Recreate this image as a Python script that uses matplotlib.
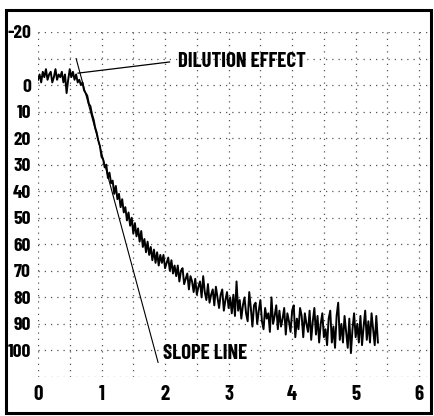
import numpy as np
import matplotlib.pyplot as plt
from matplotlib.patches import Rectangle

step = 0.025
trace = [
    -2, -4, -1, -5, -3, -6, -2, -4, -5, -1, -3, -6, -2, -4, -3, -5, -1, -4, 3, -2,
    -6, -3, -5, -2, -4, -1, -2,
    0, -1, 2, 3,
    4, 7, 8, 11,
    13, 16, 18, 21,
    23, 27, 28, 31,
    30, 35, 33, 37,
    36, 41, 38, 43,
    41, 46, 43, 48,
    46, 51, 48, 53,
    50, 56, 52, 57,
    54, 59, 55, 61,
    58, 63, 59, 64,
    61, 66, 62, 67,
    63, 68, 64, 67,
    64, 69, 67, 65,
    70, 66, 71, 68,
    72, 68, 74, 70,
    69, 75, 73, 71,
    77, 72, 74, 78,
    73, 79, 76, 74,
    80, 72, 78, 81,
    75, 82, 79, 77,
    83, 76, 80, 84,
    79, 77, 85, 81,
    78, 84, 80, 86,
    79, 87, 74, 85,
    81, 88, 83, 80,
    86, 89, 78, 84,
    91, 83, 82, 90,
    85, 81, 89, 92,
    84, 88, 86, 93,
    80, 90, 87, 83,
    92, 85, 91, 88,
    84, 94, 86, 89,
    93, 85, 83, 95,
    88, 92, 84, 87,
    95, 86, 90, 93,
    85, 96, 89, 84,
    94, 87, 97, 90,
    86, 95, 92, 98,
    88, 85, 97, 91,
    99, 87, 82, 96,
    90, 97, 87, 93,
    99, 88, 101, 92,
    86, 95, 90, 97,
    87, 98, 91, 85,
    96, 89, 97, 86,
    92, 98, 87, 97,
]
time = np.arange(len(trace)) * step

slope_x = [0.6, 1.89]
slope_y = [-10, 104.5]
dilution_x = [0.63, 2.07]
dilution_y = [-4.5, -8.7]

x_ticks = [0, 1, 2, 3, 4, 5, 6]
y_ticks = [-20, 0, 10, 20, 30, 40, 50, 60, 70, 80, 90, 100]

plt.rcParams['axes.unicode_minus'] = False
plt.rcParams['font.family'] = ['Barlow Condensed', 'DejaVu Sans']
plt.rcParams['font.weight'] = 'bold'

fig = plt.figure(figsize=(4.35, 4.16), dpi=100)
ax = fig.add_axes([38 / 435, 39 / 416, 392 / 435, 345 / 416])

ax.plot(time, trace, color='black', lw=1.4)
ax.plot(slope_x, slope_y, color='black', lw=0.8)
ax.plot(dilution_x, dilution_y, color='black', lw=0.9)
ax.text(2.2, -8.7, "DILUTION EFFECT", fontsize=15, va='center', ha='left')
ax.text(1.97, 101, "SLOPE LINE", fontsize=15, va='center', ha='left')

ax.set_xlim(0, 6.17)
ax.set_ylim(110, -20)

# grid every 0.5 / 10, labels only where the reference has them
ax.set_xticks(np.arange(0, 6.01, 0.5), minor=True)
ax.set_yticks(np.arange(-20, 111, 10), minor=True)
ax.set_xticks(x_ticks)
ax.set_xticklabels([str(v) for v in x_ticks])
ax.set_yticks(y_ticks)
ax.set_yticklabels([str(v) for v in y_ticks])
ax.grid(True, which='both', color='#555555', linestyle=(0, (1, 4)), lw=0.9)
ax.tick_params(which='both', length=0)
ax.tick_params(axis='x', pad=6, labelsize=15)
ax.tick_params(axis='y', pad=5, labelsize=14)
for s in ax.spines.values():
    s.set_visible(False)

fig.patches.append(Rectangle((6.5 / 435, 3.5 / 416), 424.5 / 435, 403 / 416,
                             transform=fig.transFigure, fill=False,
                             edgecolor='black', lw=2.2))

fig.savefig("out.png", dpi=100)
